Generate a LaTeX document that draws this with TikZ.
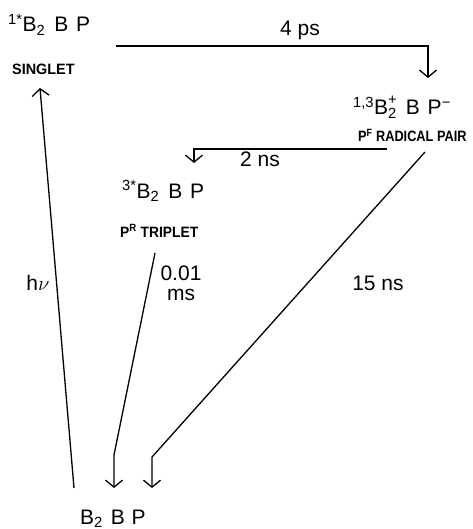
\documentclass[tikz,border=0pt]{standalone}
\usepackage{fontspec}
\setmainfont{Liberation Sans}
\usetikzlibrary{arrows.meta}
\begin{document}
\begin{tikzpicture}[x=1pt,y=-1pt,
  conn/.style={line width=1.3pt,-{Straight Barb[length=7pt,width=17pt,line width=1.3pt]}},
  big/.style={font=\fontsize{21}{25}\selectfont, inner sep=0pt},
  small/.style={font=\bfseries\fontsize{15}{18}\selectfont, inner sep=0pt}]
\useasboundingbox (0,0) rectangle (472,529);

% states
\node[big, anchor=base west] (s1) at (8,32) {\textsuperscript{1*}B\textsubscript{2}\hspace{0.15em} B\hspace{0.1em} P};
\node[small, anchor=base west] (s1l) at (12,75) {\scalebox{0.96}[1]{SINGLET}};
\node[big, anchor=base west] (rp) at (353,115) {\textsuperscript{1,3}B\rlap{\raisebox{0.15em}{\textsuperscript{+}}}\textsubscript{2}\hspace{0.15em} B\hspace{0.1em} P\textsuperscript{\char"2212}};
\node[small, anchor=base west] (rpl) at (358,142) {\scalebox{0.85}[1]{P\textsuperscript{F} RADICAL PAIR}};
\node[big, anchor=base west] (t3) at (122,198) {\textsuperscript{3*}B\textsubscript{2}\hspace{0.15em} B\hspace{0.1em} P};
\node[small, anchor=base west] (t3l) at (120,237) {\scalebox{0.92}[1]{P\textsuperscript{R} TRIPLET}};
\node[big, anchor=base west] (g) at (80,524) {B\textsubscript{2}\hspace{0.1em} B\hspace{0.05em} P};

% rate labels
\node[big, anchor=base] (l4) at (300,36) {4 ps};
\node[big, anchor=base] (l2) at (260,167) {2 ns};
\node[big, anchor=base] (l01a) at (181,280) {0.01};
\node[big, anchor=base] (l01b) at (181,300) {ms};
\node[big, anchor=base] (l15) at (378,290) {15 ns};
\node[big, anchor=base] (lh) at (38,290) {h$\nu$};

% coordinates
\coordinate (hA) at (74,488);
\coordinate (hB) at (40,88);
\coordinate (a4) at (116,46);
\coordinate (b4) at (428,46);
\coordinate (c4) at (428,78);
\coordinate (a2) at (387,149);
\coordinate (b2) at (194,149);
\coordinate (c2) at (194,163);
\coordinate (a01) at (155,253);
\coordinate (b01) at (114,455);
\coordinate (c01) at (114,488);
\coordinate (a15) at (425,152);
\coordinate (b15) at (152,457);
\coordinate (c15) at (152,488);

\draw[conn] (hA) -- (hB);
\draw[conn] (a4) -- (b4) -- (c4);
\draw[conn] (a2) -- (b2) -- (c2);
\draw[conn] (a01) -- (b01) -- (c01);
\draw[conn] (a15) -- (b15) -- (c15);
\end{tikzpicture}
\end{document}
